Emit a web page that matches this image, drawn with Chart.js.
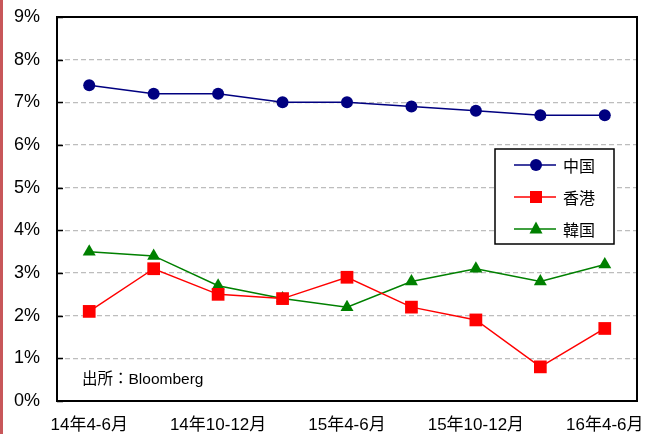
<!DOCTYPE html>
<html lang="ja">
<head>
<meta charset="utf-8">
<title>中国・香港・韓国 実質GDP成長率</title>
<script src="https://cdn.jsdelivr.net/npm/chart.js@4/dist/chart.umd.min.js"></script>
<style>
  html, body { margin: 0; padding: 0; background: #ffffff; }
  #wrap { position: relative; width: 646px; height: 434px; overflow: hidden; }
  #stripe { position: absolute; left: 0; top: 0; width: 3px; height: 434px; background: #c8575a; }
  canvas { display: block; }
</style>
</head>
<body>
<div id="wrap">
  <canvas id="chart" width="646" height="434"></canvas>
  <div id="stripe"></div>
</div>
<script>
// Quarterly periods (year / months)
const quarters = ['14年4-6月', '14年7-9月', '14年10-12月', '15年1-3月', '15年4-6月',
                  '15年7-9月', '15年10-12月', '16年1-3月', '16年4-6月'];

// Real GDP growth, year on year (%)
const china    = [7.4, 7.2, 7.2, 7.0, 7.0, 6.9, 6.8, 6.7, 6.7];
const hongKong = [2.1, 3.1, 2.5, 2.4, 2.9, 2.2, 1.9, 0.8, 1.7];
const korea    = [3.5, 3.4, 2.7, 2.4, 2.2, 2.8, 3.1, 2.8, 3.2];

// Percent axis ticks
const yTicks = [0, 1, 2, 3, 4, 5, 6, 7, 8, 9];

const seriesNames = ['中国', '香港', '韓国'];
const sourceNote = '出所：Bloomberg';

const FONT = '"Liberation Sans", Arial, "Noto Sans CJK JP", sans-serif';

// Plot frame, inner tick marks, legend box and source note
const framePlugin = {
  id: 'frame',
  beforeDatasetsDraw(chart) {
    const { ctx, chartArea: a, scales: { y } } = chart;
    ctx.save();
    ctx.strokeStyle = '#000000';
    ctx.lineWidth = 2;
    ctx.strokeRect(a.left, a.top, a.right - a.left, a.bottom - a.top);
    ctx.lineWidth = 1.5;
    yTicks.forEach(v => {
      const py = Math.round(y.getPixelForValue(v)) + 0.5;
      ctx.beginPath();
      ctx.moveTo(a.left, py);
      ctx.lineTo(a.left + 6, py);
      ctx.stroke();
    });
    ctx.fillStyle = '#000000';
    ctx.font = '15.5px ' + FONT;
    ctx.textBaseline = 'middle';
    ctx.textAlign = 'left';
    ctx.fillText(sourceNote, a.left + 25, a.bottom - 21);
    ctx.restore();
  },
  afterDraw(chart) {
    const { ctx, chartArea: a } = chart;
    const bx = a.right - 142, by = a.top + 132, bw = 119, bh = 95;
    ctx.save();
    ctx.fillStyle = '#ffffff';
    ctx.fillRect(bx, by, bw, bh);
    ctx.strokeStyle = '#000000';
    ctx.lineWidth = 1.5;
    ctx.strokeRect(bx, by, bw, bh);
    chart.data.datasets.forEach((ds, i) => {
      const ry = by + 16 + i * 32;
      const lx0 = bx + 19, lx1 = bx + 61, mx = bx + 41;
      ctx.strokeStyle = ds.borderColor;
      ctx.lineWidth = 1.5;
      ctx.beginPath();
      ctx.moveTo(lx0, ry);
      ctx.lineTo(lx1, ry);
      ctx.stroke();
      ctx.fillStyle = ds.backgroundColor;
      ctx.beginPath();
      if (ds.pointStyle === 'circle') {
        ctx.arc(mx, ry, 6, 0, Math.PI * 2);
      } else if (ds.pointStyle === 'rect') {
        ctx.rect(mx - 6, ry - 6, 12, 12);
      } else {
        ctx.moveTo(mx, ry - 7.5);
        ctx.lineTo(mx + 6.5, ry + 4.5);
        ctx.lineTo(mx - 6.5, ry + 4.5);
        ctx.closePath();
      }
      ctx.fill();
      ctx.fillStyle = '#000000';
      ctx.font = '16px "Noto Sans CJK JP", sans-serif';
      ctx.textAlign = 'left';
      ctx.textBaseline = 'middle';
      ctx.fillText(ds.label, bx + 68, ry + 1);
    });
    ctx.restore();
  }
};

new Chart(document.getElementById('chart'), {
  type: 'line',
  data: {
    labels: quarters,
    datasets: [
      {
        label: seriesNames[0], data: china,
        borderColor: '#000080', backgroundColor: '#000080',
        borderWidth: 1.5, pointStyle: 'circle', pointRadius: 6,
        pointBorderWidth: 0, pointHoverRadius: 6
      },
      {
        label: seriesNames[1], data: hongKong,
        borderColor: '#ff0000', backgroundColor: '#ff0000',
        borderWidth: 1.5, pointStyle: 'rect', pointRadius: 9,
        pointBorderWidth: 0, pointHoverRadius: 9
      },
      {
        label: seriesNames[2], data: korea,
        borderColor: '#008000', backgroundColor: '#008000',
        borderWidth: 1.5, pointStyle: 'triangle', pointRadius: 7.5,
        pointBorderWidth: 0, pointHoverRadius: 7.5
      }
    ]
  },
  options: {
    responsive: false,
    animation: false,
    events: [],
    layout: { padding: { top: 17, right: 9, left: 0, bottom: 0 } },
    plugins: {
      legend: { display: false },
      tooltip: { enabled: false },
      title: { display: false }
    },
    scales: {
      x: {
        type: 'category',
        offset: true,
        grid: { display: false, drawTicks: false },
        border: { display: false },
        ticks: {
          autoSkip: false,
          maxRotation: 0,
          minRotation: 0,
          padding: 14,
          color: '#000000',
          font: { family: FONT, size: 17 },
          callback: (v, i) => (i % 2 === 0 ? quarters[i] : '')
        },
        afterFit: s => {
          s.height = 33;
          s.paddingLeft = 0;
          s.paddingRight = 0;
        }
      },
      y: {
        min: 0,
        max: 9,
        afterBuildTicks: s => { s.ticks = yTicks.map(v => ({ value: v })); },
        grid: {
          drawTicks: false,
          lineWidth: 1.2,
          color: c => (c.tick.value === 0 || c.tick.value === 9 ? 'rgba(0,0,0,0)' : '#bdbdbd')
        },
        border: { display: false, dash: [5, 3] },
        ticks: {
          padding: 17,
          color: '#000000',
          font: { family: FONT, size: 18 },
          callback: v => v + '%'
        },
        afterFit: s => {
          s.width = 57;
          s.paddingTop = 0;
          s.paddingBottom = 0;
        }
      }
    }
  },
  plugins: [framePlugin]
});
</script>
</body>
</html>
